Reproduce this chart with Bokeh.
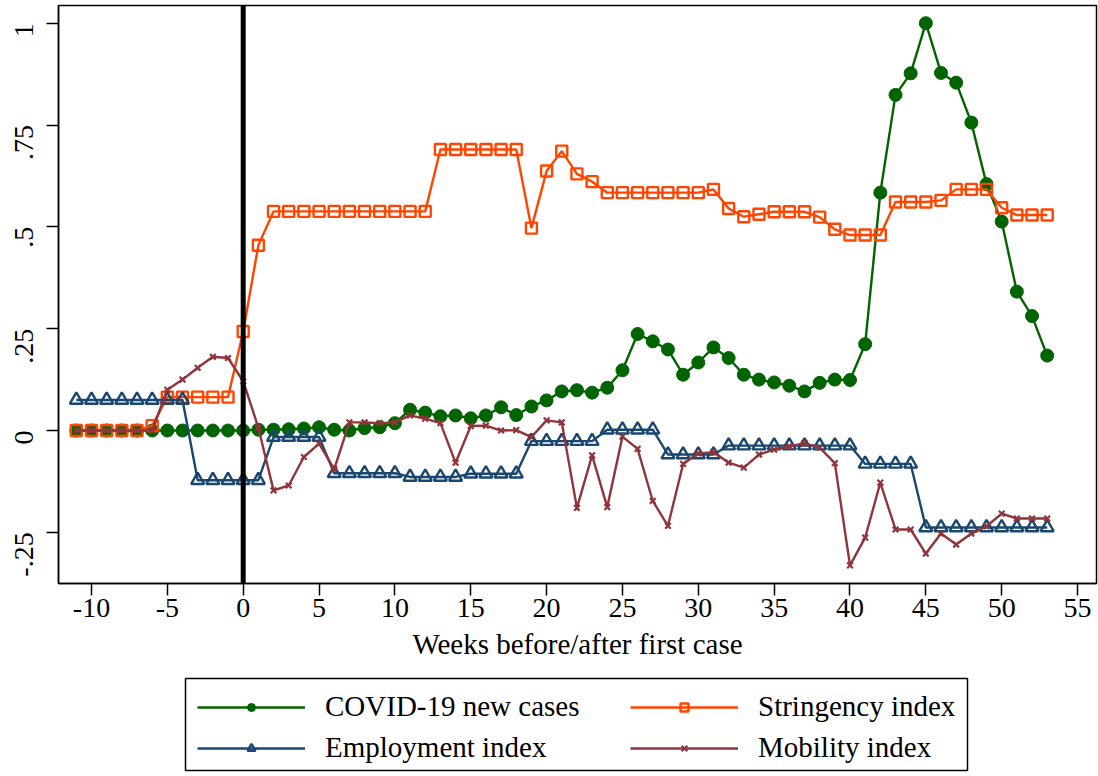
import math
from bokeh.plotting import figure
from bokeh.models import Range1d, FixedTicker, Span, Legend, LegendItem
from bokeh.layouts import column
from bokeh.embed import file_html
from bokeh.resources import INLINE

weeks = list(range(-11, 54))

covid = [0]*11 + [
    0.0, 0.002, 0.002, 0.003, 0.005, 0.008, 0.002, 0.0, 0.006, 0.008,
    0.018, 0.051, 0.044, 0.035, 0.037, 0.030, 0.037, 0.057, 0.038, 0.059,
    0.074, 0.096, 0.099, 0.093, 0.105, 0.148, 0.237, 0.219, 0.199, 0.137,
    0.167, 0.204, 0.178, 0.137, 0.125, 0.118, 0.110, 0.096, 0.117, 0.125,
    0.124, 0.212, 0.584, 0.824, 0.877, 1.0, 0.878, 0.854, 0.756, 0.605,
    0.513, 0.341, 0.281, 0.184]

stringency = [0]*5 + [0.012] + [0.082]*5 + [0.243, 0.455] + [0.538]*11 + [0.69]*6 + [
    0.497, 0.637, 0.686, 0.630, 0.611] + [0.584]*7 + [
    0.592, 0.545, 0.525, 0.531, 0.537, 0.537, 0.537, 0.524, 0.494,
    0.48, 0.48, 0.48, 0.561, 0.561, 0.561, 0.565, 0.592, 0.592, 0.592,
    0.547, 0.529, 0.529, 0.529]

employment = ([0.075]*8 + [-0.122]*5 + [-0.016]*4 + [-0.105]*5 + [-0.114]*4 +
              [-0.106]*4 + [-0.026]*5 + [0.002]*4 + [-0.059]*4 + [-0.037]*9 +
              [-0.082]*4 + [-0.238]*9)

mobility = [0]*6 + [
    0.10, 0.125, 0.154, 0.181, 0.178, 0.121, 0.007, -0.147, -0.135, -0.065,
    -0.032, -0.095, 0.02, 0.02, 0.018, 0.02, 0.037, 0.029, 0.018, -0.079,
    0.011, 0.012, 0.0, 0.001, -0.016, 0.025, 0.02, -0.19, -0.061, -0.188,
    -0.015, -0.045, -0.173, -0.234, -0.082, -0.056, -0.053, -0.079, -0.091, -0.059,
    -0.047, -0.039, -0.031, -0.042, -0.08, -0.331, -0.263, -0.128, -0.243, -0.243,
    -0.302, -0.253, -0.28, -0.253, -0.235, -0.204, -0.216, -0.216, -0.216]

x_ticks = list(range(-10, 56, 5))
x_tick_labels = {t: str(t) for t in x_ticks}
y_ticks = [-0.25, 0, 0.25, 0.5, 0.75, 1]
y_tick_labels = {-0.25: "-.25", 0: "0", 0.25: ".25", 0.5: ".5", 0.75: ".75", 1: "1"}
labels = ["COVID-19 new cases", "Stringency index", "Employment index", "Mobility index"]

FONT = "Liberation Serif"
GREEN, ORANGE, BLUE, MAROON = "#006400", "#FF4500", "#1A476F", "#90353B"
styles = [
    dict(color=GREEN, marker="circle", size=13, fill=GREEN, mlw=1),
    dict(color=ORANGE, marker="square", size=11, fill=None, mlw=2.4),
    dict(color=BLUE, marker="triangle", size=13, fill=None, mlw=2.4),
    dict(color=MAROON, marker="x", size=8, fill=None, mlw=2.2),
]
series = [covid, stringency, employment, mobility]
LW = 2.4

# ---------------- main chart ----------------
p = figure(width=1098, height=670, output_backend="svg", toolbar_location=None,
           x_range=Range1d(-12.175, 56.25), y_range=Range1d(-0.3756, 1.0435),
           min_border_left=58, min_border_right=2, min_border_top=5, min_border_bottom=87,
           frame_align=False)
p.outline_line_color = "black"
p.outline_line_width = 1.5
p.xgrid.visible = False
p.ygrid.visible = False

for ax in (p.xaxis[0], p.yaxis[0]):
    ax.axis_line_color = "black"
    ax.axis_line_width = 1.5
    ax.major_tick_in = 0
    ax.major_tick_out = 12
    ax.major_tick_line_width = 1.5
    ax.major_tick_line_color = "black"
    ax.minor_tick_line_color = None
    ax.major_label_text_font = FONT
    ax.major_label_text_font_size = "28px"
    ax.major_label_text_color = "black"

p.xaxis.ticker = FixedTicker(ticks=x_ticks)
p.xaxis.major_label_overrides = x_tick_labels
p.xaxis.major_label_standoff = 3
p.xaxis.axis_label = "Weeks before/after first case"
p.xaxis.axis_label_text_font = FONT
p.xaxis.axis_label_text_font_size = "29px"
p.xaxis.axis_label_text_font_style = "normal"
p.xaxis.axis_label_text_color = "black"
p.xaxis.axis_label_standoff = 8

p.yaxis.ticker = FixedTicker(ticks=y_ticks)
p.yaxis.major_label_overrides = y_tick_labels
p.yaxis.major_label_orientation = math.pi / 2
p.yaxis.major_label_standoff = 22

p.add_layout(Span(location=0, dimension="height", line_color="black", line_width=5))

for vals, st in zip(series, styles):
    p.line(weeks, vals, line_color=st["color"], line_width=LW)
    p.scatter(weeks, vals, marker=st["marker"], size=st["size"], fill_color=st["fill"],
              line_color=st["color"], line_width=st["mlw"])

# ---------------- legend box (separate panel under the chart) ----------------
lg = figure(width=1098, height=105, output_backend="svg", toolbar_location=None,
            x_axis_location=None, y_axis_location=None,
            x_range=Range1d(0, 1), y_range=Range1d(0, 1),
            min_border_left=185, min_border_right=131, min_border_top=8, min_border_bottom=5,
            frame_align=False)
lg.outline_line_color = "black"
lg.outline_line_width = 1.5
lg.xgrid.visible = False
lg.ygrid.visible = False

# legend keys: same styles; their single point lies outside this panel's range
items = []
for lab, st in zip(labels, styles):
    rl = lg.line(x=[-5, -4], y=[-5, -5], line_color=st["color"], line_width=LW)
    rs = lg.scatter(x=[-5], y=[-5], marker=st["marker"], size=st["size"], fill_color=st["fill"],
                    line_color=st["color"], line_width=st["mlw"])
    items.append(LegendItem(label=lab, renderers=[rl, rs]))


def make_legend(its, loc):
    L = Legend(items=its, location=loc, orientation="vertical")
    L.label_text_font = FONT
    L.label_text_font_size = "29px"
    L.label_text_color = "black"
    L.glyph_width = 108
    L.glyph_height = 20
    L.label_standoff = 20
    L.spacing = 8
    L.padding = 10
    L.margin = 0
    L.border_line_color = None
    L.background_fill_alpha = 0
    return L

lg.add_layout(make_legend([items[0], items[2]], (12, 6)))
lg.add_layout(make_legend([items[1], items[3]], (445, 6)))

open("out.html", "w").write(file_html(column(p, lg), INLINE))
